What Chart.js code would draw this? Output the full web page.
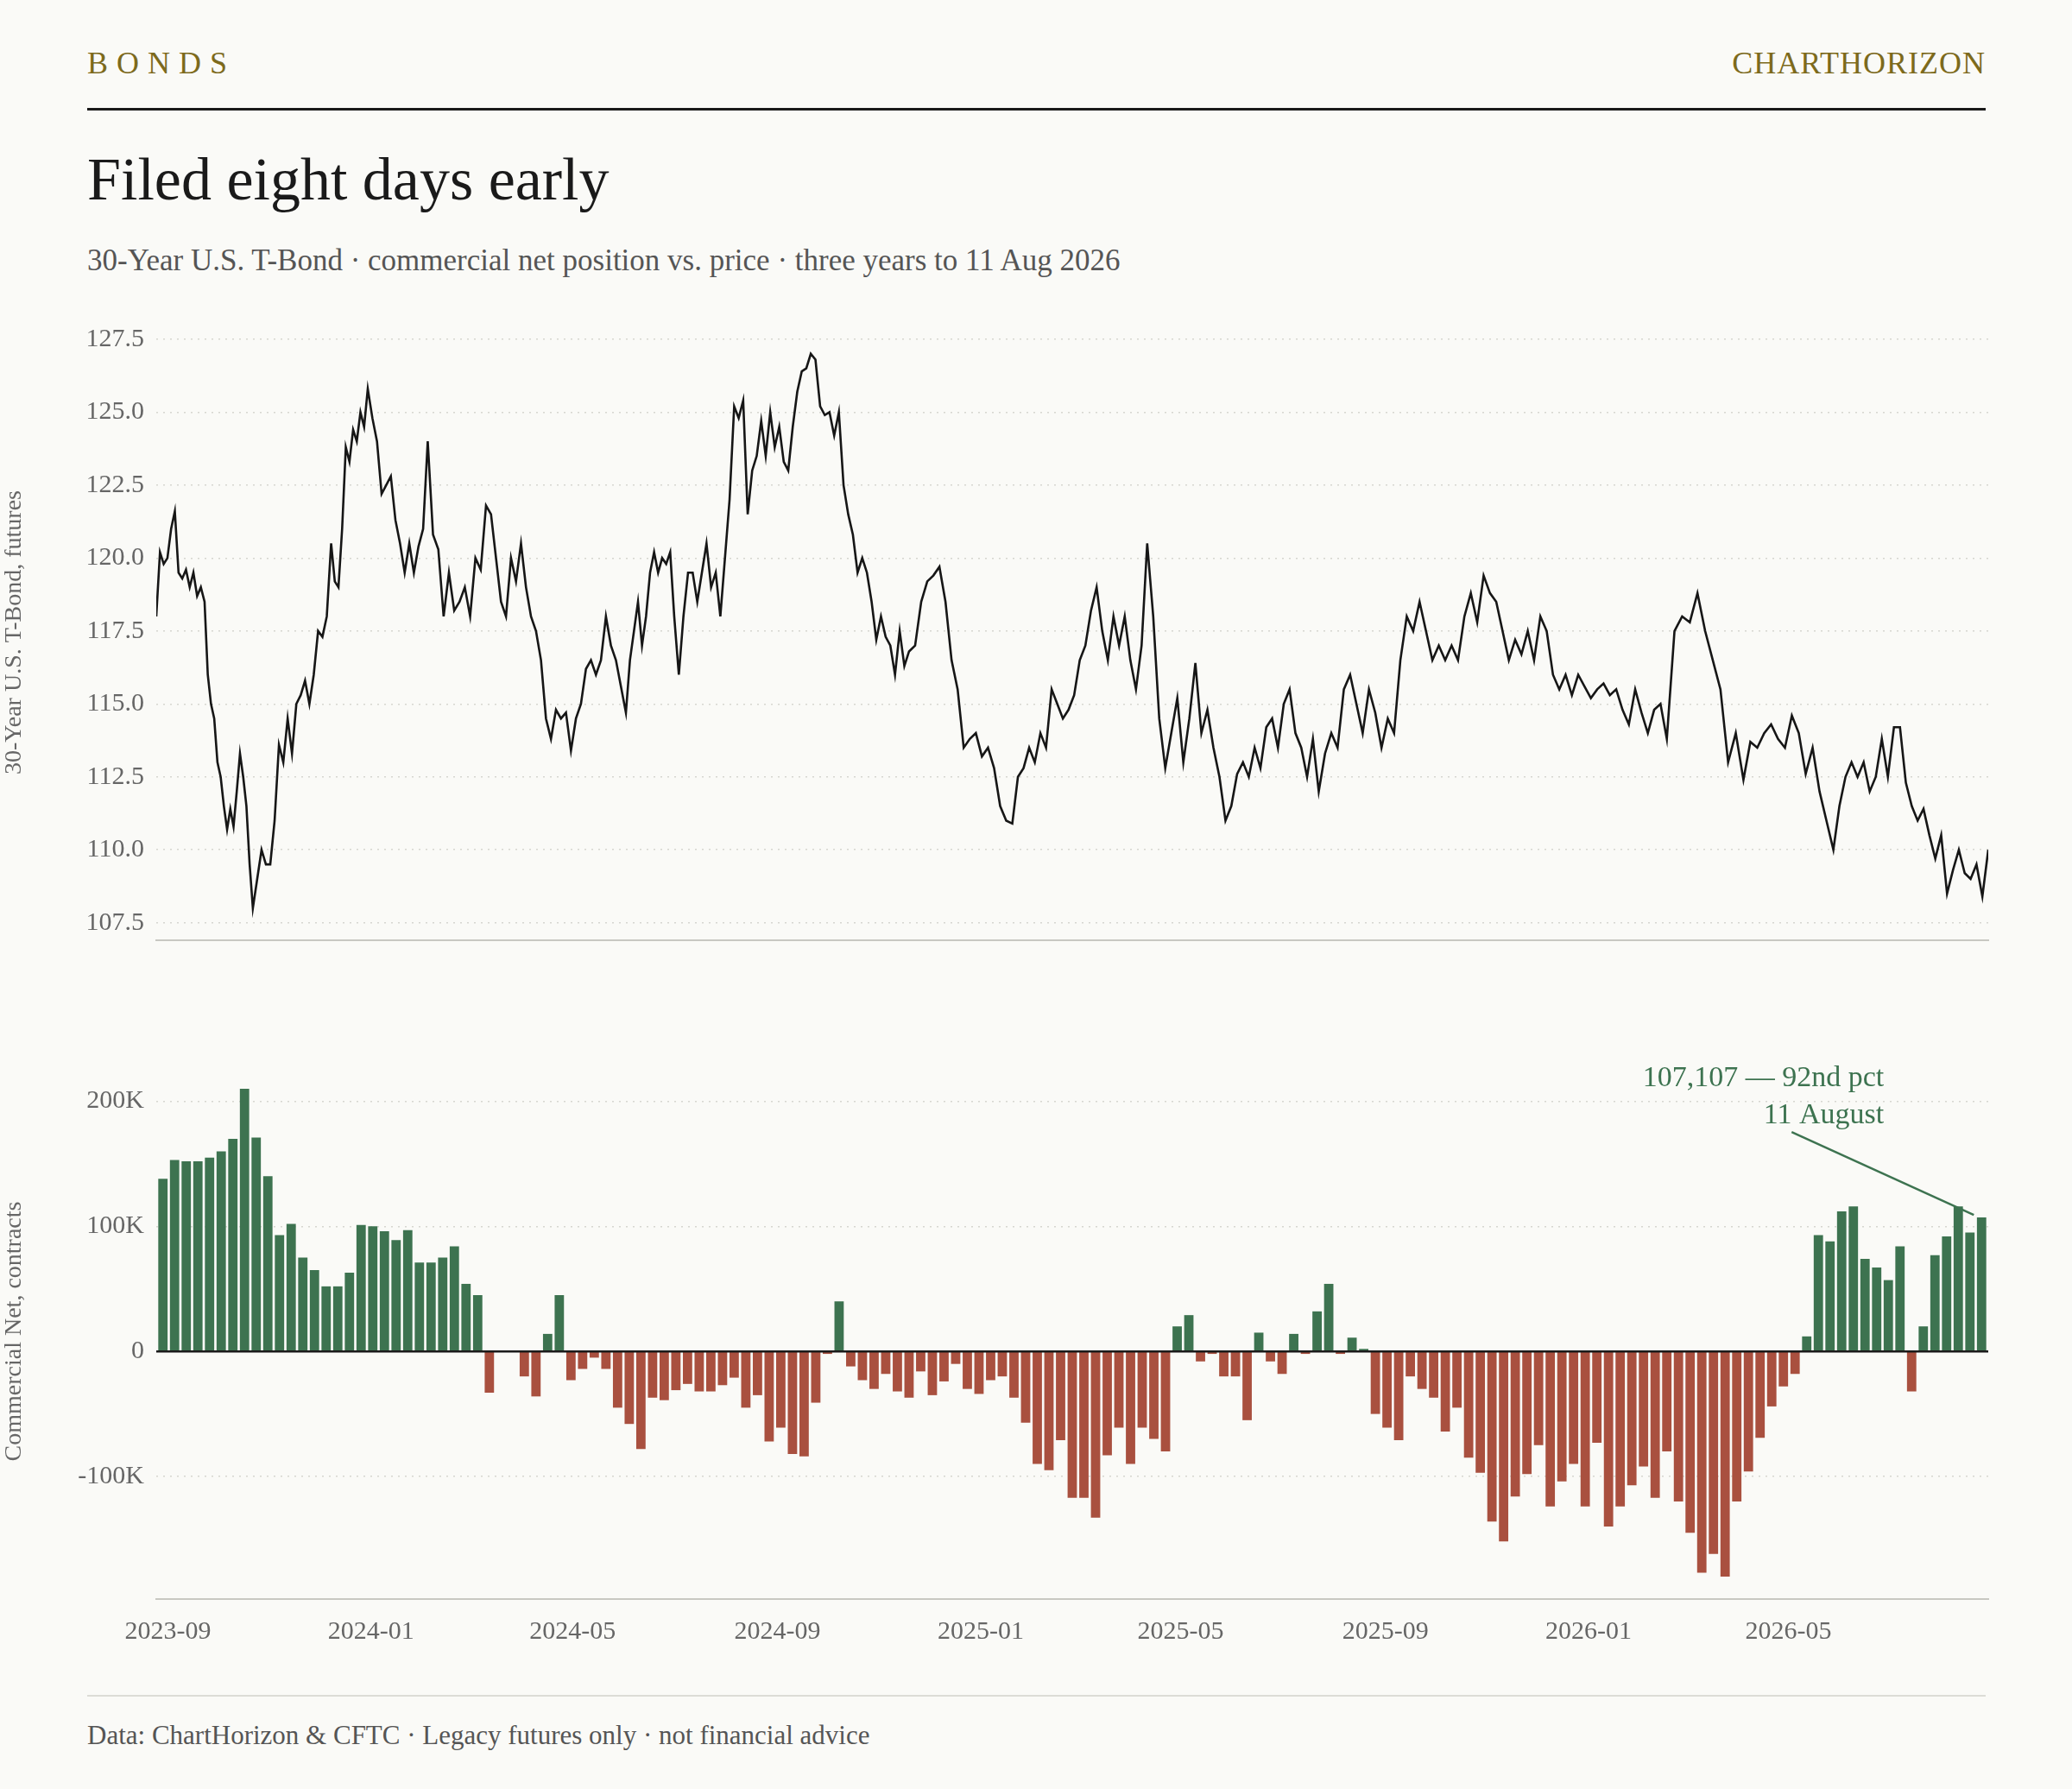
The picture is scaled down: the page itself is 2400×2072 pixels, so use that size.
<!DOCTYPE html>
<html lang="en">
<head>
<meta charset="UTF-8" />
<title>Filed eight days early</title>
<script src="https://cdn.jsdelivr.net/npm/chart.js"></script>
<style>
  * { margin: 0; padding: 0; box-sizing: border-box; }
  body { width: 2400px; height: 2072px; background: #fafaf7; font-family: "Liberation Serif", "DejaVu Serif", serif; position: relative; overflow: hidden; color: #1a1a1a; }
  .brand { position: absolute; top: 52px; font-size: 36px; color: #7d6a1c; }
  .brand.left { left: 101px; letter-spacing: 10px; }
  .brand.right { right: 100px; letter-spacing: 1px; }
  .rule { position: absolute; left: 101px; width: 2199px; top: 125px; height: 3px; background: #1a1a1a; }
  h1 { position: absolute; left: 101px; top: 168px; font-size: 70px; font-weight: normal; }
  .sub { position: absolute; left: 101px; top: 282px; font-size: 35px; color: #555; }
  .foot-rule { position: absolute; left: 101px; width: 2199px; top: 1963px; height: 2px; background: #dcdcd6; }
  .foot { position: absolute; left: 101px; top: 1992px; font-size: 31px; color: #555; }
  #priceBox { position: absolute; left: 0; top: 344px; width: 2310px; height: 777px; }
  #netBox { position: absolute; left: 0; top: 1200px; width: 2310px; height: 720px; }
</style>
</head>
<body>
<div class="brand left">BONDS</div>
<div class="brand right">CHARTHORIZON</div>
<div class="rule"></div>
<h1>Filed eight days early</h1>
<div class="sub">30-Year U.S. T-Bond · commercial net position vs. price · three years to 11 Aug 2026</div>
<div id="priceBox"><canvas id="priceChart"></canvas></div>
<div id="netBox"><canvas id="netChart"></canvas></div>
<div class="foot-rule"></div>
<div class="foot">Data: ChartHorizon &amp; CFTC · Legacy futures only · not financial advice</div>
<script>
// weekly commercial net position, thousands of contracts
const netFirstWeek = "2023-08-29";
const netK = [138,153,152,152,155,160,170,210,171,140,93,102,75,65,52,52,63,101,100,96,89,97,71,71,75,84,54,45,
  -33,0,0,-20,-36,14,45,-23,-14,-5,-14,-45,-58,-78,-37,-39,-31,-26,-32,-32,-27,-21,-45,-35,-72,-61,-82,-84,-41,-2,40,
  -12,-23,-30,-18,-32,-37,-16,-35,-24,-10,-30,-34,-23,-20,-37,-57,-90,-95,-71,-117,-117,-133,-83,-61,-90,-61,-70,-80,
  20,29,-8,-2,-20,-20,-55,15,-8,-18,14,-2,32,54,-2,11,2,-50,-61,-71,-20,-30,-37,-64,-45,-85,-97,-136,-152,-116,-98,
  -75,-124,-104,-90,-124,-73,-140,-124,-107,-92,-117,-80,-120,-145,-177,-162,-180,-120,-96,-69,-44,-28,-18,12,93,88,
  112,116,74,67,57,84,-32,20,77,92,116,95,107.107];

// 30-year T-bond futures price, readings grouped by the date each run ends on
const priceStart = "2023-08-25";
const priceRunEnds = ["2023-09-23","2023-10-22","2023-12-08","2023-12-30","2024-02-04","2024-03-10","2024-04-30",
  "2024-06-02","2024-07-01","2024-08-06","2024-09-21","2024-11-19","2025-01-20","2025-04-11","2025-05-28",
  "2025-07-23","2025-09-10","2025-10-30","2025-12-22","2026-02-17","2026-04-04","2026-05-28","2026-07-07","2026-08-29"];
const priceRuns = [
  [118,120.2,119.8,120,121,121.6,119.5,119.3,119.6,119,119.5,118.7,119,118.5],
  [116,115,114.5,113,112.5,111.5,110.7,111.4,110.8,112,113.3,112.5,111.5,109.5,108],
  [109,110,109.5,109.5,111,113.6,113,114.5,113.3,115,115.3,115.8,115,116,117.5,117.3,118,120.5],
  [119.2,119,121,123.8,123.3,124.4,124,125,124.5,125.8],
  [124.8,124,122.2,122.5,122.8,121.3,120.5,119.5,120.5,119.5,120.4,121,124],
  [120.8,120.3,118,119.5,118.2,118.5,119,118,120,119.6,121.8],
  [121.5,120,118.5,118,120,119.2,120.5,119,118,117.5,116.5,114.5,113.8,114.8,114.5,114.7,113.4],
  [114.5,115,116.2,116.5,116,116.5,118,117,116.5,115.6,114.7],
  [116.5,117.5,118.5,117,118,119.5,120.2,119.5,120,119.8,120.2,118],
  [116,118,119.5,119.5,118.5,119.5,120.5,119,119.5,118,120,122,125.2],
  [124.8,125.4,121.5,123,123.5,124.7,123.5,125,123.8,124.5,123.3,123,124.5,125.7,126.4,126.5,127],
  [126.8,125.2,124.9,125,124.2,125,122.5,121.5,120.8,119.5,120,119.5,118.5,117.2,118,117.3,117,116,117.5,116.3,116.8],
  [117,118.5,119.2,119.4,119.7,118.5,116.5,115.5,113.5,113.8,114,113.2,113.5,112.8,111.5,111,110.9],
  [112.5,112.8,113.5,113,114,113.5,115.5,115,114.5,114.8,115.3,116.5,117,118.2,119,117.5,116.5,118,117,118,116.5,115.5,117,120.5],
  [118,114.5,112.8,114,115.2,113,114.5,116.4,114,114.8,113.5,112.5,111],
  [111.5,112.6,113,112.5,113.5,112.8,114.2,114.5,113.5,115,115.5,114,113.5,112.5,113.8,112],
  [113.3,114,113.5,115.5,116,115,114,115.5,114.7,113.5,114.5,114,116.5],
  [118,117.5,118.5,117.5,116.5,117,116.5,117,116.5,118,118.8,117.8,119.4],
  [118.8,118.5,117.5,116.5,117.2,116.7,117.5,116.5,118,117.5,116,115.5,116,115.3],
  [116,115.6,115.2,115.5,115.7,115.3,115.5,114.8,114.3,115.5,114.7,114,114.8,115,113.8],
  [117.5,118,117.8,118.8,117.5,116.5,115.5,113,114,112.4],
  [113.7,113.5,114,114.3,113.8,113.5,114.6,114,112.6,113.5,112,111,110],
  [111.5,112.5,113,112.5,113,112,112.5,113.8,112.5,114.2,114.2],
  [112.3,111.5,111,111.4,110.5,109.7,110.5,108.5,109.3,110,109.2,109,109.5,108.4,110]
];

const priceTicks = [107.5, 110, 112.5, 115, 117.5, 120, 122.5, 125, 127.5];
const netTicks = [-100000, 0, 100000, 200000];
const monthTicks = ["2023-09", "2024-01", "2024-05", "2024-09", "2025-01", "2025-05", "2025-09", "2026-01", "2026-05"];

const DAY = 86400000;
const dayOf = s => Date.UTC(+s.slice(0, 4), +s.slice(5, 7) - 1, +(s.slice(8, 10) || 1)) / DAY;
const first = dayOf(netFirstWeek);
const last = first + (netK.length - 1) * 7;
const xMin = first - 4, xMax = last + 4;

const netData = netK.map((v, i) => ({ x: first + i * 7, y: Math.round(v * 1000) }));

// spread each run's readings evenly between the previous run end and its own end date
const priceData = [];
priceRuns.forEach((run, r) => {
  const end = dayOf(priceRunEnds[r]);
  if (r === 0) {
    const start = dayOf(priceStart);
    run.forEach((v, i) => priceData.push({ x: start + (i * (end - start)) / (run.length - 1), y: v }));
  } else {
    const start = dayOf(priceRunEnds[r - 1]);
    run.forEach((v, i) => priceData.push({ x: start + ((i + 1) * (end - start)) / run.length, y: v }));
  }
});

const GREEN = "#3d7350", RED = "#a9503f", GRID = "#d6d6d0", TXT = "#666";
const tickFont = { family: "Liberation Serif", size: 30 };
const titleFont = { family: "Liberation Serif", size: 28 };

new Chart(document.getElementById("priceChart"), {
  type: "line",
  data: { datasets: [{ data: priceData, borderColor: "#161616", borderWidth: 2.6, pointRadius: 0, tension: 0 }] },
  options: {
    responsive: true, maintainAspectRatio: false, animation: false,
    layout: { padding: { top: 15, bottom: 13, right: 7 } },
    plugins: { legend: { display: false }, tooltip: { enabled: false } },
    scales: {
      x: { type: "linear", min: xMin, max: xMax, ticks: { display: false }, grid: { display: false },
        border: { color: "#c8c8c2", width: 2 }, afterFit: s => { s.height = 0; } },
      y: { min: 106.9, max: 128,
        afterBuildTicks: s => { s.ticks = priceTicks.map(v => ({ value: v })); },
        afterFit: s => { s.width = 181; },
        ticks: { color: TXT, font: tickFont, padding: 14, callback: v => v.toFixed(1) },
        grid: { color: GRID, lineWidth: 1.5, drawTicks: false },
        border: { display: false, dash: [2, 6] },
        title: { display: true, text: "30-Year U.S. T-Bond, futures", color: TXT, font: titleFont, padding: 0 } }
    }
  }
});

const netExtras = {
  id: "netExtras",
  afterDatasetsDraw(chart) {
    const { ctx, scales: { x, y }, chartArea } = chart;
    ctx.save();
    // zero line
    ctx.strokeStyle = "#1a1a1a"; ctx.lineWidth = 2.5;
    ctx.beginPath(); ctx.moveTo(chartArea.left, y.getPixelForValue(0)); ctx.lineTo(chartArea.right, y.getPixelForValue(0)); ctx.stroke();
    // callout on latest week
    const p = netData[netData.length - 1];
    const bx = x.getPixelForValue(p.x), by = y.getPixelForValue(p.y);
    ctx.strokeStyle = GREEN; ctx.lineWidth = 2.5;
    ctx.beginPath(); ctx.moveTo(bx - 220, by - 99); ctx.lineTo(bx - 9, by - 3); ctx.stroke();
    ctx.fillStyle = GREEN; ctx.font = "34px 'Liberation Serif'"; ctx.textAlign = "right"; ctx.textBaseline = "alphabetic";
    ctx.fillText("107,107 — 92nd pct", bx - 113, by - 152);
    ctx.fillText("11 August", bx - 113, by - 109);
    ctx.restore();
  }
};

new Chart(document.getElementById("netChart"), {
  type: "bar",
  data: { datasets: [{ data: netData, backgroundColor: netData.map(d => d.y >= 0 ? GREEN : RED),
    barPercentage: 0.8, categoryPercentage: 1 }] },
  options: {
    responsive: true, maintainAspectRatio: false, animation: false,
    layout: { padding: { top: 23, right: 7 } },
    plugins: { legend: { display: false }, tooltip: { enabled: false } },
    scales: {
      x: { type: "linear", min: xMin, max: xMax, offset: false,
        afterBuildTicks: s => { s.ticks = monthTicks.map(m => ({ value: dayOf(m) })); },
        afterFit: s => { s.height = 68; },
        ticks: { color: TXT, font: tickFont, padding: 12, maxRotation: 0, autoSkip: false,
          callback: v => { const d = new Date(v * DAY); return d.getUTCFullYear() + "-" + String(d.getUTCMonth() + 1).padStart(2, "0"); } },
        grid: { display: false }, border: { color: "#c8c8c2", width: 2 } },
      y: { min: -198000, max: 230000,
        afterBuildTicks: s => { s.ticks = netTicks.map(v => ({ value: v })); },
        afterFit: s => { s.width = 181; },
        ticks: { color: TXT, font: tickFont, padding: 14, callback: v => v === 0 ? "0" : (v / 1000) + "K" },
        grid: { color: GRID, lineWidth: 1.5, drawTicks: false },
        border: { display: false, dash: [2, 6] },
        title: { display: true, text: "Commercial Net, contracts", color: TXT, font: titleFont, padding: 0 } }
    }
  },
  plugins: [netExtras]
});
</script>
</body>
</html>
